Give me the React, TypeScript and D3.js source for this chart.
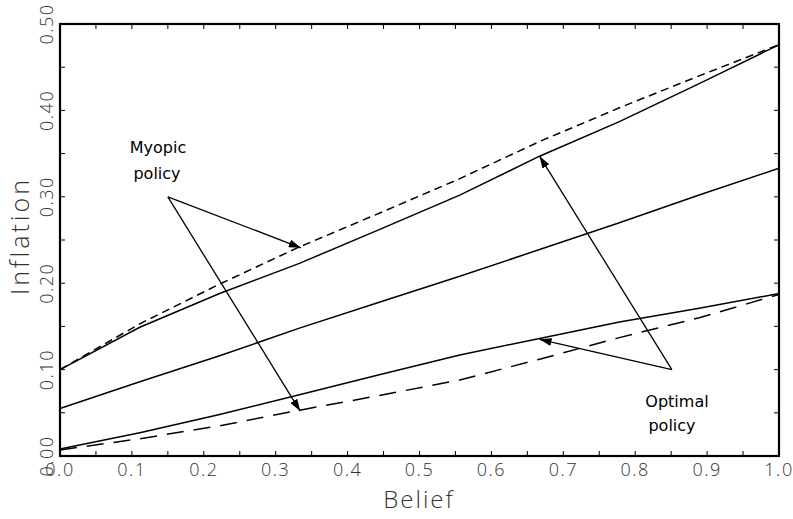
import React from "react";
import * as d3 from "d3";

const belief = [0, 0.111, 0.222, 0.333, 0.444, 0.556, 0.667, 0.778, 0.889, 1.0];
const myopicHigh = [0.100, 0.153, 0.199, 0.242, 0.281, 0.321, 0.364, 0.403, 0.440, 0.476];
const optimalHigh = [0.100, 0.149, 0.188, 0.223, 0.262, 0.302, 0.347, 0.387, 0.431, 0.476];
const middle = [0.055, 0.086, 0.116, 0.148, 0.178, 0.208, 0.239, 0.270, 0.302, 0.333];
const optimalLow = [0.008, 0.027, 0.048, 0.071, 0.094, 0.117, 0.136, 0.155, 0.171, 0.188];
const myopicLow = [0.007, 0.020, 0.035, 0.053, 0.070, 0.088, 0.112, 0.137, 0.160, 0.187];

const xTickLabels = ["0.0", "0.1", "0.2", "0.3", "0.4", "0.5", "0.6", "0.7", "0.8", "0.9", "1.0"];
const yTickLabels = ["0.00", "0.10", "0.20", "0.30", "0.40", "0.50"];
const minorX = [0, 0.05, 0.1, 0.15, 0.2, 0.25, 0.3, 0.35, 0.4, 0.45, 0.5, 0.55, 0.6, 0.65, 0.7, 0.75, 0.8, 0.85, 0.9, 0.95, 1];
const minorY = [0, 0.05, 0.1, 0.15, 0.2, 0.25, 0.3, 0.35, 0.4, 0.45, 0.5];

// annotations: [from, to] in data coords
const myopicVertex = [0.15, 0.30];
const myopicTargets = [[0.335, 0.241], [0.334, 0.052]];
const optimalVertex = [0.851, 0.100];
const optimalTargets = [[0.667, 0.347], [0.667, 0.135]];

const L = 60, R = 779, T = 24, B = 456;

export default function App() {
  const x = d3.scaleLinear().domain([0, 1]).range([L, R]);
  const y = d3.scaleLinear().domain([0, 0.5]).range([B, T]);
  const line = d3.line<number>().x((_, i) => x(belief[i])).y((d) => y(d));

  const series = [
    { v: myopicHigh, dash: "8,5" },
    { v: optimalHigh, dash: null },
    { v: middle, dash: null },
    { v: optimalLow, dash: null },
    { v: myopicLow, dash: "17,10" },
  ];

  const tickFont = { fontFamily: "'Open Sans', 'DejaVu Sans', sans-serif", fontWeight: 300, fontSize: 18, fill: "#333", letterSpacing: 1.5 } as any;
  const annFont = { fontFamily: "'DejaVu Sans', sans-serif", fontSize: 16, fill: "#000" } as any;

  const arrows: [number[], number[]][] = [];
  myopicTargets.forEach((t) => arrows.push([myopicVertex, t]));
  optimalTargets.forEach((t) => arrows.push([optimalVertex, t]));

  return (
    <svg width={793} height={519} style={{ position: "absolute", left: 0, top: 0, background: "#fff" }}>
      <defs>
        <marker id="ah" viewBox="0 0 12 8" refX={12} refY={4} markerWidth={12} markerHeight={8} markerUnits="userSpaceOnUse" orient="auto">
          <path d="M0,0 L12,4 L0,8 Z" fill="#000" />
        </marker>
      </defs>
      <rect x={0} y={0} width={793} height={519} fill="#fff" />
      {/* ticks */}
      {minorX.map((t, i) => (
        <g key={"tx" + i}>
          <line x1={x(t)} x2={x(t)} y1={B} y2={B - 5} stroke="#000" strokeWidth={1} />
          <line x1={x(t)} x2={x(t)} y1={T} y2={T + 5} stroke="#000" strokeWidth={1} />
        </g>
      ))}
      {minorY.map((t, i) => (
        <g key={"ty" + i}>
          <line x1={L} x2={L + 5} y1={y(t)} y2={y(t)} stroke="#000" strokeWidth={1} />
          <line x1={R} x2={R - 5} y1={y(t)} y2={y(t)} stroke="#000" strokeWidth={1} />
        </g>
      ))}
      {/* series */}
      {series.map((s, i) => (
        <path key={"s" + i} d={line(s.v) || ""} fill="none" stroke="#000" strokeWidth={1.5} strokeDasharray={s.dash || undefined} />
      ))}
      {/* arrows */}
      {arrows.map(([a, b], i) => (
        <line key={"a" + i} x1={x(a[0])} y1={y(a[1])} x2={x(b[0])} y2={y(b[1])} stroke="#000" strokeWidth={1.3} markerEnd="url(#ah)" />
      ))}
      {/* frame */}
      <rect x={L} y={T} width={R - L} height={B - T} fill="none" stroke="#000" strokeWidth={2.2} />
      {/* tick labels */}
      {xTickLabels.map((lab, i) => (
        <text key={"xl" + i} x={x(i / 10)} y={476} textAnchor="middle" style={tickFont}>{lab}</text>
      ))}
      {yTickLabels.map((lab, i) => (
        <text key={"yl" + i} transform={`translate(53,${y(i / 10)}) rotate(-90)`} textAnchor="middle" style={tickFont}>{lab}</text>
      ))}
      {/* axis titles */}
      <text x={419} y={508} textAnchor="middle" style={{ ...tickFont, fontSize: 24, letterSpacing: 2 }}>Belief</text>
      <text transform={`translate(29,236) rotate(-90)`} textAnchor="middle" style={{ ...tickFont, fontSize: 25, letterSpacing: 3 }}>Inflation</text>
      {/* annotations */}
      <text x={158} y={153} textAnchor="middle" style={annFont}>Myopic</text>
      <text x={157} y={179} textAnchor="middle" style={annFont}>policy</text>
      <text x={677} y={407} textAnchor="middle" style={annFont}>Optimal</text>
      <text x={672} y={431} textAnchor="middle" style={annFont}>policy</text>
    </svg>
  );
}
